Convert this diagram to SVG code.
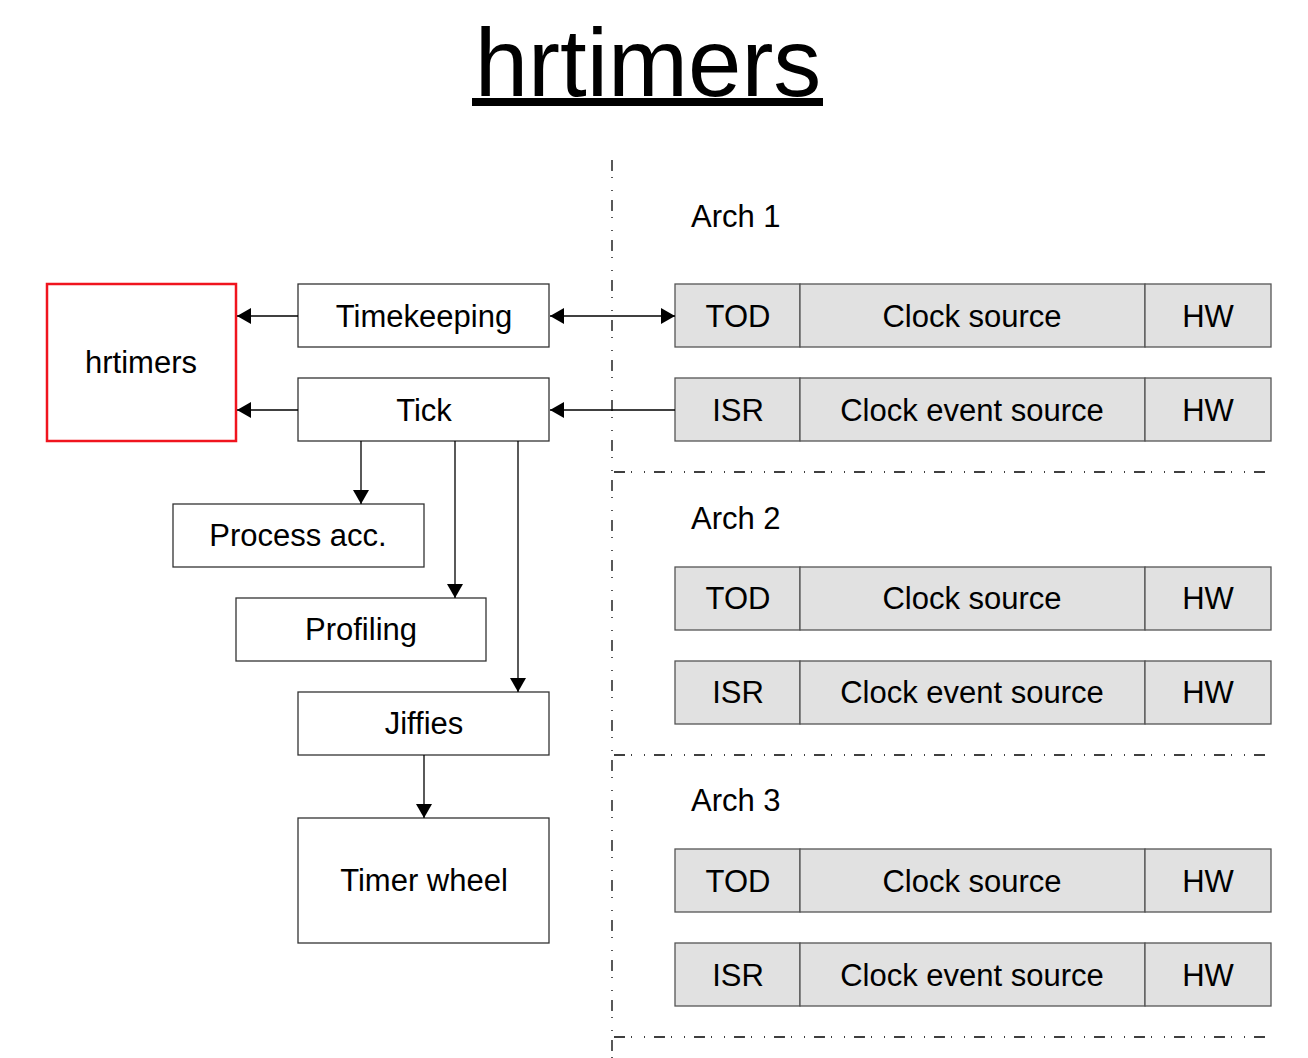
<svg xmlns="http://www.w3.org/2000/svg" width="1308" height="1058" viewBox="0 0 1308 1058">
<style>
text{font-family:"Liberation Sans",Arial,sans-serif;fill:#000}
.t{font-size:31px;text-anchor:middle}
.a{font-size:31px}
.b{fill:#fff;stroke:#333;stroke-width:1.3}
.g{fill:#e1e1e1;stroke:#555;stroke-width:1.3}
.c{stroke:#000;stroke-width:1.3;fill:none}
.d{stroke:#000;stroke-width:1.3;fill:none;stroke-dasharray:11 6 1 12 1 9}
</style>
<defs>
<marker id="ah" viewBox="0 0 14 16" refX="14" refY="8" markerWidth="14" markerHeight="16" markerUnits="userSpaceOnUse" orient="auto-start-reverse">
<path d="M0,0 L14,8 L0,16 Z" fill="#000"/>
</marker>
</defs>
<rect width="1308" height="1058" fill="#fff"/>
<g id="title">
<text x="648" y="96" text-anchor="middle" style="font-size:96px">hrtimers</text>
<rect x="472" y="98" width="351" height="8" fill="#000"/>
</g>
<g id="separators">
<line class="d" x1="612" y1="160" x2="612" y2="1058"/>
<line class="d" x1="614" y1="472" x2="1268" y2="472"/>
<line class="d" x1="614" y1="755" x2="1268" y2="755"/>
<line class="d" x1="614" y1="1037" x2="1268" y2="1037"/>
</g>
<g id="n-hrtimers"><rect x="47" y="284" width="189" height="157" fill="#fff" stroke="#f0141e" stroke-width="2.5"/><text class="t" x="141" y="373">hrtimers</text></g>
<g id="n-timekeeping"><rect class="b" x="298" y="284" width="251" height="63"/><text class="t" x="424" y="327">Timekeeping</text></g>
<g id="n-tick"><rect class="b" x="298" y="378" width="251" height="63"/><text class="t" x="424" y="421">Tick</text></g>
<g id="n-process"><rect class="b" x="173" y="504" width="251" height="63"/><text class="t" x="298" y="546">Process acc.</text></g>
<g id="n-profiling"><rect class="b" x="236" y="598" width="250" height="63"/><text class="t" x="361" y="640">Profiling</text></g>
<g id="n-jiffies"><rect class="b" x="298" y="692" width="251" height="63"/><text class="t" x="424" y="734">Jiffies</text></g>
<g id="n-timerwheel"><rect class="b" x="298" y="818" width="251" height="125"/><text class="t" x="424" y="891">Timer wheel</text></g>
<g id="arch1">
<text class="a" x="691" y="227">Arch 1</text>
<g id="a1-tod"><rect class="g" x="675" y="284" width="125" height="63"/><rect class="g" x="800" y="284" width="345" height="63"/><rect class="g" x="1145" y="284" width="126" height="63"/>
<text class="t" x="738" y="327">TOD</text><text class="t" x="972" y="327">Clock source</text><text class="t" x="1208" y="327">HW</text></g>
<g id="a1-isr"><rect class="g" x="675" y="378" width="125" height="63"/><rect class="g" x="800" y="378" width="345" height="63"/><rect class="g" x="1145" y="378" width="126" height="63"/>
<text class="t" x="738" y="421">ISR</text><text class="t" x="972" y="421">Clock event source</text><text class="t" x="1208" y="421">HW</text></g>
</g>
<g id="arch2">
<text class="a" x="691" y="529">Arch 2</text>
<g id="a2-tod"><rect class="g" x="675" y="567" width="125" height="63"/><rect class="g" x="800" y="567" width="345" height="63"/><rect class="g" x="1145" y="567" width="126" height="63"/>
<text class="t" x="738" y="609">TOD</text><text class="t" x="972" y="609">Clock source</text><text class="t" x="1208" y="609">HW</text></g>
<g id="a2-isr"><rect class="g" x="675" y="661" width="125" height="63"/><rect class="g" x="800" y="661" width="345" height="63"/><rect class="g" x="1145" y="661" width="126" height="63"/>
<text class="t" x="738" y="703">ISR</text><text class="t" x="972" y="703">Clock event source</text><text class="t" x="1208" y="703">HW</text></g>
</g>
<g id="arch3">
<text class="a" x="691" y="811">Arch 3</text>
<g id="a3-tod"><rect class="g" x="675" y="849" width="125" height="63"/><rect class="g" x="800" y="849" width="345" height="63"/><rect class="g" x="1145" y="849" width="126" height="63"/>
<text class="t" x="738" y="892">TOD</text><text class="t" x="972" y="892">Clock source</text><text class="t" x="1208" y="892">HW</text></g>
<g id="a3-isr"><rect class="g" x="675" y="943" width="125" height="63"/><rect class="g" x="800" y="943" width="345" height="63"/><rect class="g" x="1145" y="943" width="126" height="63"/>
<text class="t" x="738" y="986">ISR</text><text class="t" x="972" y="986">Clock event source</text><text class="t" x="1208" y="986">HW</text></g>
</g>
<g id="connectors">
<line class="c" x1="298" y1="316" x2="237" y2="316" marker-end="url(#ah)"/>
<line class="c" x1="298" y1="410" x2="237" y2="410" marker-end="url(#ah)"/>
<line class="c" x1="550" y1="316" x2="675" y2="316" marker-start="url(#ah)" marker-end="url(#ah)"/>
<line class="c" x1="675" y1="410" x2="550" y2="410" marker-end="url(#ah)"/>
<line class="c" x1="361" y1="441" x2="361" y2="504" marker-end="url(#ah)"/>
<line class="c" x1="455" y1="441" x2="455" y2="598" marker-end="url(#ah)"/>
<line class="c" x1="518" y1="441" x2="518" y2="692" marker-end="url(#ah)"/>
<line class="c" x1="424" y1="755" x2="424" y2="818" marker-end="url(#ah)"/>
</g>
</svg>
